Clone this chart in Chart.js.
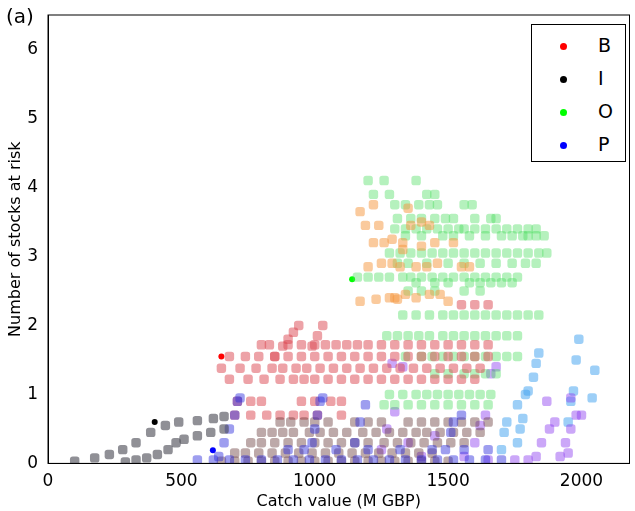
<!DOCTYPE html>
<html>
<head>
<meta charset="utf-8">
<script src="https://cdn.jsdelivr.net/npm/chart.js@4"></script>
<style>
  body { margin: 0; background: #fff; font-family: "DejaVu Sans", sans-serif; }
  #wrap { position: relative; width: 635px; height: 511px; }
  #tag { position: absolute; left: 6px; top: 4px; font-size: 20px; }
  #legend { position: absolute; left: 531px; top: 24px; width: 93px; height: 136px; border: 1px solid #000; background: #fff; font-size: 19px; }
  #legend div { position: relative; height: 31px; margin-top: 2px; }
  #legend span.dot { position: absolute; left: 28px; top: 10px; width: 7px; height: 7px; border-radius: 50%; }
  #legend span.lab { position: absolute; left: 66px; top: 1px; }
</style>
</head>
<body>
<div id="wrap">
  <canvas id="c" width="635" height="511"></canvas>
  <div id="tag">(a)</div>
  <div id="legend">
    <div style="margin-top:8px"><span class="dot" style="background:#f00"></span><span class="lab">B</span></div>
    <div><span class="dot" style="background:#000"></span><span class="lab">I</span></div>
    <div><span class="dot" style="background:#0f0"></span><span class="lab">O</span></div>
    <div><span class="dot" style="background:#00f"></span><span class="lab">P</span></div>
  </div>
</div>
<script>
// axis ticks
const xTicks = [0, 500, 1000, 1500, 2000];
const yTicks = [0, 1, 2, 3, 4, 5, 6];

// rows of points: [y, x values]
const grayRows = [
  [[100,0.03],[175,0.08],[230,0.13],[280,0.2],[330,0.3],[385,0.45],[440,0.55],[490,0.6],[560,0.62],[620,0.65],[660,0.68]],
  [[290,0.02],[330,0.05],[370,0.08],[410,0.13],[450,0.2],[480,0.3],[510,0.35],[560,0.4],[610,0.45],[660,0.5]]
];
const darkRows = [
  [0.6, [870,910,960,1000,1050,1150,1200,1250,1350,1400,1450,1500,1550,1600,1650]],
  [0.45, [800,840,880,920,980,1020,1070,1120,1180,1230,1280,1330,1380,1420,1470,1520,1570,1620]],
  [0.3, [760,800,850,900,950,1000,1050,1100,1150,1200,1260,1310,1360,1410,1460,1510,1560]],
  [0.15, [700,740,790,840,890,940,990,1040,1090,1140,1190,1240,1290,1340,1390,1440]],
  [0.03, [650,700,750,800,850,900,950,1000,1050,1100,1150,1200,1250,1300,1350,1400,1450,1500]]
];
const redRows = [
  [1.55, [680,740,790,850,900,950,1000,1050,1100,1150,1200,1250,1300,1350,1400,1450,1500,1550,1600,1650]],
  [1.72, [800,830,900,950,1000,1040,1080,1120,1160,1200,1250,1300,1350,1400,1450,1500,1550,1600,1650]],
  [1.38, [650,720,780,840,880,930,970,1020,1070,1120,1170,1220,1270,1320,1370,1420,1470,1520,1570,1620]],
  [1.22, [680,750,810,870,920,960,1000,1050,1100,1150,1200,1250,1300,1350,1400,1450,1500,1550,1600]],
  [0.9, [710,760,800,950,1000,1060,1100]],
  [0.7, [700,760,820,870,920,960,1010,1100]],
  [2.3, [1550,1600,1650]]
];
const redExtra = [[850,1.55],[880,1.7],[900,1.8],[920,1.9],[940,2.0],[990,1.7],[1010,1.85],[1030,2.0]];
const orangePts = [[1170,3.65],[1220,3.75],[1190,3.45],[1240,3.45],[1220,3.2],[1260,3.2],[1290,3.25],[1330,3.2],
  [1200,2.85],[1250,2.9],[1290,2.9],[1320,2.85],[1380,2.85],[1420,2.85],[1460,2.9],[1330,3.1],[1400,3.15],[1450,3.2],
  [1520,3.2],[1550,2.85],[1580,2.85],[1350,3.7],[1360,3.45],[1400,3.5],[1430,3.45],[1300,2.4],[1340,2.45],[1380,2.4],
  [1430,2.45],[1470,2.45],[1170,2.35],[1230,2.38],[1280,2.4],[1310,2.38],[1500,2.35]];
const greenRows = [
  [4.1, [1200,1260,1380]],
  [3.9, [1220,1280,1420,1450]],
  [3.75, [1300,1340,1390,1430,1460,1560,1590]],
  [3.55, [1310,1360,1400,1450,1490,1520,1600,1660,1680]],
  [3.4, [1300,1340,1380,1420,1460,1500,1540,1560,1600,1640,1680,1720,1760,1800,1830]],
  [3.3, [1340,1400,1480,1520,1580,1640,1700,1740,1780,1800,1830,1860]],
  [3.05, [1280,1320,1360,1400,1440,1480,1520,1560,1600,1640,1680,1720,1760,1800,1840,1870]],
  [2.9, [1310,1350,1420,1500,1560,1620,1680,1740,1790,1830]],
  [2.7, [1160,1200,1240,1280,1330,1360,1400,1440,1480,1520,1560,1600,1640,1680,1720,1760]],
  [2.62, [1380,1450,1500,1580,1620,1660,1700,1740]],
  [2.5, [1350,1400,1450,1560,1620]],
  [2.15, [1330,1380,1430,1480,1520,1560,1600,1640,1680,1720,1760,1800,1840]],
  [1.85, [1270,1310,1350,1390,1430,1480,1520,1560,1600,1640,1680,1720,1760]],
  [1.55, [1340,1400,1440,1480,1520,1560,1600,1640,1680,1720,1760]],
  [1.3, [1450,1500,1560,1600,1640,1680]],
  [1.0, [1280,1330,1380,1420,1460,1500,1540,1580,1620,1660]],
  [0.85, [1260,1300,1350,1400,1450,1500,1550,1600,1650]]
];
const bluePts = [[640,0.1],[660,0.3],[680,0.5],[700,0.7],[710,0.9],[720,0.95],[990,0.3],[1000,0.5],[1010,0.7],
  [1020,0.9],[1030,0.95],[1150,0.3],[1170,0.6],[1190,0.85],[1490,0.2],[1510,0.45],[1520,0.6],[1550,0.7],
  [560,0.05],[620,0.05],[680,0.05],[740,0.05],[800,0.05],[860,0.05],[920,0.05],[980,0.05],[1040,0.05],[1100,0.05],
  [1160,0.05],[1220,0.05],[1280,0.05],[1340,0.05],[1400,0.05],[1460,0.05],[1520,0.05],[1580,0.05],[1640,0.05],[1700,0.05],
  [900,0.2],[960,0.2],[1080,0.2],[1200,0.2],[1320,0.2],[1440,0.2],[1560,0.2],[1650,0.2]];
const purplePts = [[1250,0.2],[1270,0.5],[1300,0.75],[1330,1.4],[1290,1.45],[1600,0.3],[1620,0.55],[1640,0.7],
  [1660,1.3],[1680,1.4],[1830,0.1],[1850,0.3],[1880,0.5],[1900,0.6],[1920,0.1],[1940,0.3],[1960,0.5],[1980,0.7],
  [1950,0.15],[1870,0.9],[1960,0.95],[2000,0.7],[1800,0.05],[1750,0.05],[1650,0.05],[1560,0.1],[1400,0.1],
  [1350,0.3],[1450,0.4]];
const cyanPts = [[1760,0.3],[1770,0.5],[1780,0.65],[1760,0.85],[1790,1.0],[1800,1.05],[1820,1.25],[1830,1.45],
  [1840,1.6],[1950,0.6],[1960,0.9],[1970,1.05],[1980,1.5],[1990,1.8],[2040,0.95],[2050,1.35],[1700,0.2],[1710,0.45],[1720,0.6]];
const markers = [[650,1.55,'#f00'],[400,0.6,'#000'],[1140,2.67,'#0f0'],[618,0.19,'#00f']];

const toPts = a => a.map(p => ({x: p[0], y: p[1]}));
const fromRows = rows => rows.flatMap(r => r[1].map(x => ({x: x, y: r[0]})));

function sq(data, color) {
  return { data: data, backgroundColor: color, borderWidth: 0, pointStyle: 'rectRounded', pointRadius: 5.5 };
}

const datasets = [
  sq(grayRows.flatMap(toPts), 'rgba(70,70,80,0.6)'),
  sq(toPts(bluePts), 'rgba(40,40,220,0.45)'),
  sq(fromRows(darkRows), 'rgba(90,40,40,0.4)'),
  sq(fromRows(redRows).concat(toPts(redExtra)), 'rgba(220,70,80,0.5)'),
  sq(toPts(orangePts), 'rgba(245,150,60,0.5)'),
  sq(fromRows(greenRows), 'rgba(70,220,90,0.4)'),
  sq(toPts(purplePts), 'rgba(140,60,240,0.45)'),
  sq(toPts(cyanPts), 'rgba(60,160,240,0.5)')
];
markers.forEach(m => datasets.push({ data: [{x: m[0], y: m[1]}], backgroundColor: m[2], borderWidth: 0, pointRadius: 3 }));

const frame = {
  id: 'frame',
  afterDraw(chart) {
    const a = chart.chartArea, ctx = chart.ctx;
    ctx.save();
    ctx.strokeStyle = '#000';
    ctx.lineWidth = 1;
    ctx.strokeRect(a.left, a.top, a.right - a.left, a.bottom - a.top);
    ctx.restore();
  }
};

const font = { family: '"DejaVu Sans", sans-serif', size: 17 };
new Chart(document.getElementById('c'), {
  type: 'scatter',
  data: { datasets: datasets },
  plugins: [frame],
  options: {
    responsive: false,
    animation: false,
    layout: { padding: { top: 15, right: 2, left: 6, bottom: 0 } },
    plugins: { legend: { display: false }, tooltip: { enabled: false } },
    scales: {
      x: {
        min: 0, max: 2180,
        afterBuildTicks: s => { s.ticks = xTicks.map(v => ({value: v})); },
        grid: { display: false },
        border: { color: '#000' },
        ticks: { color: '#000', font: font, maxRotation: 0, padding: 0, callback: v => String(v) },
        title: { display: true, text: 'Catch value (M GBP)', color: '#000', font: { family: font.family, size: 16 }, padding: 0 }
      },
      y: {
        min: 0, max: 6.5,
        afterBuildTicks: s => { s.ticks = yTicks.map(v => ({value: v})); },
        grid: { display: false },
        border: { color: '#000' },
        ticks: { color: '#000', font: font, padding: 2 },
        title: { display: true, text: 'Number of stocks at risk', color: '#000', font: { family: font.family, size: 16 }, padding: 0 }
      }
    }
  }
});
</script>
</body>
</html>
